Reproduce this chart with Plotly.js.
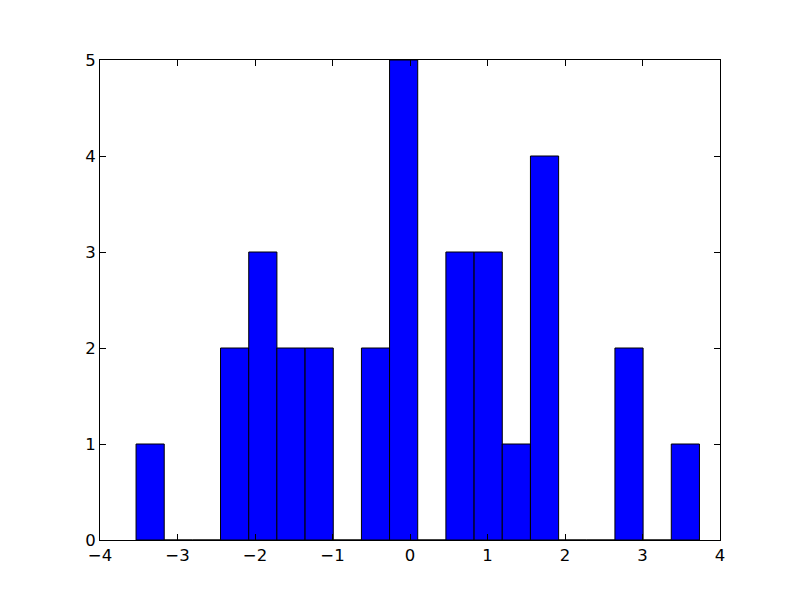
<!DOCTYPE html>
<html>
<head>
<meta charset="utf-8">
<script src="https://cdn.plot.ly/plotly-3.0.1.min.js"></script>
<style>html,body{margin:0;padding:0;background:#fff;}#chart{width:800px;height:600px;}</style>
</head>
<body>
<div id="chart"></div>
<script>
// Histogram bin centers (20 bins, width ~0.3635)
var binCenters = [-3.353, -2.990, -2.626, -2.263, -1.899, -1.536, -1.172, -0.809, -0.445, -0.082,
                  0.282, 0.645, 1.009, 1.372, 1.736, 2.099, 2.463, 2.826, 3.190, 3.553];
var binCounts = [1, 0, 0, 2, 3, 2, 2, 0, 2, 5, 0, 3, 3, 1, 4, 0, 0, 2, 0, 1];
var binWidth = 0.3635;
var xTickVals = [-4, -3, -2, -1, 0, 1, 2, 3, 4];
var xTickText = ['\u22124', '\u22123', '\u22122', '\u22121', '0', '1', '2', '3', '4'];
var yTickVals = [0, 1, 2, 3, 4, 5];

var trace = {
  type: 'bar',
  x: binCenters,
  y: binCounts,
  width: binWidth,
  marker: {color: '#0000ff', line: {color: '#000000', width: 1}},
  hoverinfo: 'x+y'
};

var axisCommon = {
  showgrid: false,
  zeroline: false,
  showline: true,
  linecolor: '#000',
  linewidth: 1,
  mirror: 'ticks',
  ticks: 'inside',
  ticklen: 6,
  tickcolor: '#000',
  tickwidth: 1,
  tickfont: {family: 'DejaVu Sans', size: 16.5, color: '#000'}
};

var layout = {
  width: 800,
  height: 600,
  margin: {l: 100, r: 80, t: 60, b: 60},
  paper_bgcolor: '#fff',
  plot_bgcolor: '#fff',
  showlegend: false,
  bargap: 0,
  xaxis: Object.assign({}, axisCommon, {range: [-4, 4], tickvals: xTickVals, ticktext: xTickText}),
  yaxis: Object.assign({}, axisCommon, {range: [0, 5], tickvals: yTickVals})
};

Plotly.newPlot('chart', [trace], layout, {displayModeBar: false, staticPlot: true});
</script>
</body>
</html>
